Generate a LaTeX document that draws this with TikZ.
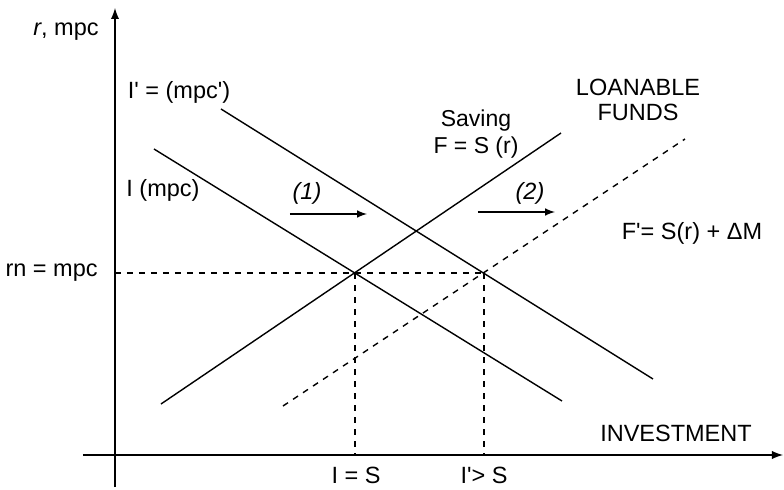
\documentclass[tikz,border=0pt]{standalone}
\usepackage{fontspec}
\setmainfont{Liberation Sans}
\newcommand{\tq}{\textquotesingle}
\tikzset{
  lfaxis/.style={line width=.9pt, -latex},
  lfcurve/.style={line width=.7pt},
  lfguide/.style={line width=.7pt, dashed},
  lfshift/.style={line width=.7pt, -latex},
  lflabel/.style={inner sep=0pt, align=center, font=\fontsize{11.75}{13}\selectfont}
}

\begin{document}
\begin{tikzpicture}[x=.5pt, y=.5pt]
\useasboundingbox (-115,-34) rectangle (669,455);

\coordinate (o) at (0,0);
\coordinate (xl) at (-32,0);
\coordinate (xr) at (668,0);
\coordinate (yb) at (0,-32);
\coordinate (yt) at (0,447);

\coordinate (i0) at (39,306);
\coordinate (i1) at (447,54);
\coordinate (ip0) at (106,346);
\coordinate (ip1) at (538,76);
\coordinate (s0) at (46,51);
\coordinate (s1) at (446,322);
\coordinate (f0) at (168,49);
\coordinate (f1) at (570,316);

\coordinate (e1) at (240,182);
\coordinate (e2) at (369,182);
\coordinate (rn) at (0,182);

\coordinate (a0) at (175,241);
\coordinate (a1) at (252,241);
\coordinate (b0) at (363,243);
\coordinate (b1) at (440,243);

\node[lflabel] (ylab) at (-49,423) {\textit{r}, mpc};
\node[lflabel] (iplab) at (64,363) {I\tq{} = (mpc\tq)};
\node[lflabel] (ilab) at (48,265) {I (mpc)};
\node[lflabel, font=\fontsize{11.5}{13.5}\selectfont] (slab) at (361,321) {Saving\\F = S (r)};
\node[lflabel, font=\fontsize{11.75}{12.5}\selectfont] (lflab) at (523,355) {LOANABLE\\FUNDS};
\node[lflabel] (fplab) at (577,222) {F\tq= S(r) + ΔM};
\node[lflabel] (one) at (192,262) {\textit{(1)}};
\node[lflabel] (two) at (415,262) {\textit{(2)}};
\node[lflabel, anchor=east] (rnlab) at (-17,182) {rn = mpc};
\node[lflabel] (islab) at (241,-20) {I = S};
\node[lflabel] (ipslab) at (369,-20) {I\tq> S};
\node[lflabel] (invlab) at (561,22) {INVESTMENT};

\draw[lfaxis] (xl) -- (xr);
\draw[lfaxis] (yb) -- (yt);

\draw[lfcurve] (i0) -- (i1);
\draw[lfcurve] (ip0) -- (ip1);
\draw[lfcurve] (s0) -- (s1);
\draw[lfguide] (f0) -- (f1);

\draw[lfguide] (rn) -- (e2);
\draw[lfguide] (e1) -- (e1 |- o);
\draw[lfguide] (e2) -- (e2 |- o);

\draw[lfshift] (a0) -- (a1);
\draw[lfshift] (b0) -- (b1);
\end{tikzpicture}
\end{document}
